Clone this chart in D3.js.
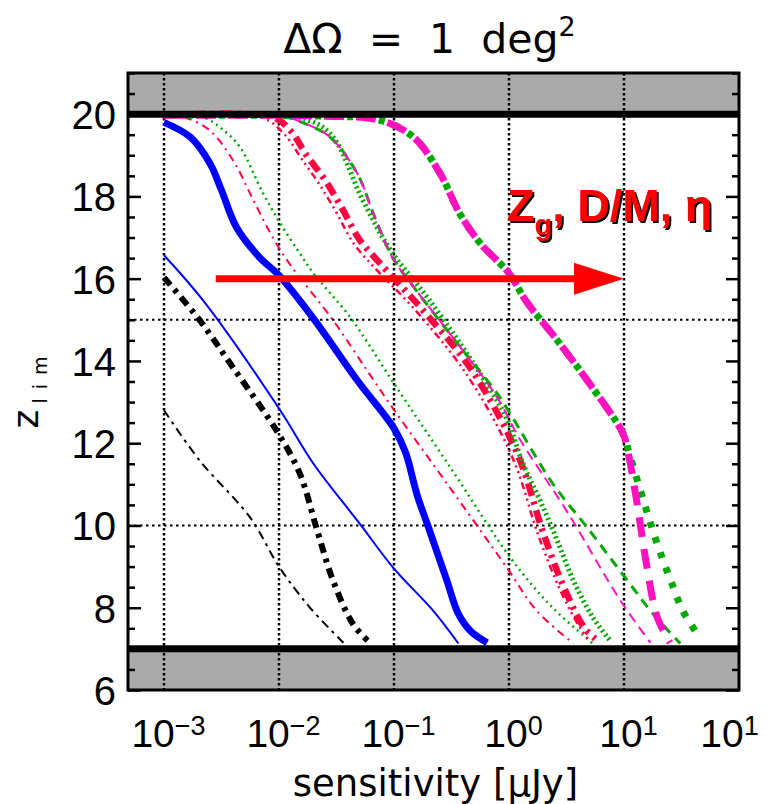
<!DOCTYPE html>
<html>
<head>
<meta charset="UTF-8">
<style>
body { margin: 0; background: #fff; }
text { font-family: "Liberation Sans", Arial, sans-serif; fill: #000; }
.wide { font-family: "DejaVu Sans", sans-serif; }
</style>
</head>
<body>
<svg width="769" height="804"></svg>
<script src="https://cdn.jsdelivr.net/npm/d3@7/dist/d3.min.js"></script>
<script>
// points are [log10(sensitivity / uJy), z_lim]
var blueThick = [[-3,19.8],[-2.77,19.44],[-2.6,18.8],[-2.5,18.15],[-2.37,17.25],[-2.17,16.52],[-2.0,16.08],
  [-1.7,15.03],[-1.32,13.53],[-1.0,12.36],[-0.9,11.78],[-0.8,10.75],[-0.7,9.95],[-0.54,8.66],[-0.44,7.85],[-0.33,7.42],[-0.19,7.15]];
var blueThin = [[-3,16.57],[-2.66,15.47],[-1.99,12.8],[-1.7,11.5],[-1.3,10.05],[-1.0,8.95],[-0.66,7.93],[-0.44,7.13]];
var blackThick = [[-3,16.03],[-2.69,14.99],[-2.4,13.84],[-2.02,12.3],[-1.82,11.27],[-1.67,9.9],[-1.53,8.66],[-1.36,7.62],[-1.23,7.2]];
var blackThin = [[-3,12.8],[-2.69,11.58],[-2.25,10.19],[-2.0,9.0],[-1.73,8.0],[-1.44,7.15]];
var redThin = [[-3,19.97],[-2.8,19.9],[-2.6,19.6],[-2.4,18.88],[-2.23,17.95],[-2.05,16.98],[-1.9,16.33],[-1.53,14.99],
  [-1.23,13.75],[-1.01,12.85],[-0.54,11.02],[-0.02,8.98],[0.24,7.93],[0.56,7.13]];
var greenThin = [[-3,19.97],[-2.66,19.92],[-2.5,19.65],[-2.34,19.2],[-2.14,18.08],[-1.99,17.35],[-1.82,16.62],[-1.7,16.13],
  [-1.38,15.06],[-1.0,13.45],[-0.51,11.41],[0.03,9.15],[0.38,8.0],[0.73,7.13]];
var redMid = [[-3,19.97],[-2.15,19.92],[-1.95,19.5],[-1.8,18.9],[-1.65,18.3],[-1.5,17.6],[-1.35,16.85],[-1.18,16.3],
  [-0.82,15.25],[-0.4,13.8],[-0.08,12.3],[0.08,11.3],[0.25,9.8],[0.45,8.4],[0.62,7.5],[0.7,7.2]];
var redThick = [[-3,19.97],[-2.05,19.92],[-1.9,19.6],[-1.76,19.0],[-1.6,18.4],[-1.45,17.7],[-1.3,16.95],[-1.12,16.37],
  [-0.77,15.3],[-0.34,13.84],[-0.02,12.3],[0.12,11.41],[0.3,9.8],[0.5,8.35],[0.66,7.49],[0.75,7.25]];
var greenThick = [[-3,19.97],[-1.85,19.93],[-1.56,19.54],[-1.27,17.9],[-1.03,16.69],[-0.69,15.47],[-0.23,13.6],[-0.02,12.6],
  [0.12,11.51],[0.27,10.61],[0.42,9.63],[0.56,8.66],[0.73,7.76],[0.88,7.2]];
var greenDashed = [[-3,19.97],[-1.95,19.93],[-1.8,19.8],[-1.56,19.45],[-1.32,18.56],[-1.18,17.59],[-1.01,16.5],[-0.83,15.8],
  [-0.45,14.43],[-0.1,13.2],[0.01,12.72],[0.38,11.02],[0.68,9.95],[1.03,8.66],[1.25,7.86],[1.49,7.13]];
var magentaThin = [[-3,19.97],[-1.95,19.93],[-1.8,19.8],[-1.56,19.45],[-1.32,18.56],[-1.18,17.59],[-1.01,16.5],[-0.83,15.8],
  [-0.45,14.43],[-0.1,13.1],[0.1,12.07],[0.5,10.36],[0.97,8.17],[1.23,7.15]];
var greenRight = [[-3,19.97],[-1.6,19.95],[-1.12,19.85],[-0.83,19.44],[-0.6,18.56],[-0.43,17.59],[-0.25,16.86],[0,16.13],
  [0.15,15.45],[0.42,14.5],[0.7,13.45],[0.99,12.24],[1.05,11.7],[1.17,10.6],[1.25,9.88],[1.34,9.15],[1.43,8.49],[1.51,7.93],[1.66,7.27]];
var magentaRight = [[-3,19.97],[-1.6,19.95],[-1.12,19.85],[-0.83,19.44],[-0.6,18.56],[-0.43,17.59],[-0.25,16.86],[0,16.13],
  [0.15,15.45],[0.42,14.5],[0.7,13.45],[0.99,12.24],[1.03,11.85],[1.11,10.6],[1.2,8.98],[1.29,7.76],[1.4,7.15]];

var xTicks = [1e-3, 1e-2, 1e-1, 1e0, 1e1, 1e2];
var xTickExp = ["\u22123", "\u22122", "\u22121", "0", "1", "1"];
var xGrid = [1e-3, 1e-2, 1e-1, 1e0, 1e1];
var yTicks = [6, 8, 10, 12, 14, 16, 18, 20];
var yGrid = [10, 15];
var zBands = [[20, 21], [6, 7]];
var zLimits = [20, 7];
var arrowFrom = [-2.55, 16], arrowTo = [1, 16];

var svg = d3.select("svg"),
    margin = {top: 73, right: 30, bottom: 114, left: 128},
    width = 769 - margin.left - margin.right,
    height = 804 - margin.top - margin.bottom,
    g = svg.append("g").attr("transform", "translate(" + margin.left + "," + margin.top + ")");

var x = d3.scaleLog().domain([Math.pow(10, -3.313), 100]).range([0, width]),
    y = d3.scaleLinear().domain([6, 21]).range([height, 0]);

var line = d3.line()
    .curve(d3.curveCatmullRom.alpha(0.5))
    .x(function(d) { return x(Math.pow(10, d[0])); })
    .y(function(d) { return y(d[1]); });

var defs = svg.append("defs");
defs.append("clipPath").attr("id", "clip")
  .append("rect").attr("width", width).attr("height", height);
defs.append("filter").attr("id", "shadow").attr("x", "-5%").attr("y", "-20%").attr("width", "110%").attr("height", "140%")
  .append("feDropShadow").attr("dx", 2).attr("dy", 2).attr("stdDeviation", 0.4)
    .attr("flood-color", "#000").attr("flood-opacity", 1);

// grey bands outside the redshift range
g.selectAll(".band").data(zBands).enter().append("rect")
    .attr("x", 0).attr("width", width)
    .attr("y", function(d) { return y(d[1]); })
    .attr("height", function(d) { return y(d[0]) - y(d[1]); })
    .attr("fill", "#aaaaaa");

// dotted grid
g.selectAll(".gx").data(xGrid).enter().append("line")
    .attr("x1", function(d) { return x(d); }).attr("x2", function(d) { return x(d); })
    .attr("y1", 0).attr("y2", height)
    .attr("stroke", "#000").attr("stroke-width", 2.5).attr("stroke-dasharray", "2.5,2.5");
g.selectAll(".gy").data(yGrid).enter().append("line")
    .attr("x1", 0).attr("x2", width)
    .attr("y1", function(d) { return y(d); }).attr("y2", function(d) { return y(d); })
    .attr("stroke", "#000").attr("stroke-width", 2).attr("stroke-dasharray", "2.5,3.5");

var series = [
  {v: blackThin, c: "#000", w: 2, d: "9,5,3,5"},
  {v: blackThick, c: "#000", w: 6, d: "10,6,4,6"},
  {v: blueThin, c: "#0000ff", w: 2, d: null},
  {v: blueThick, c: "#0000ff", w: 7, d: null},
  {v: redThin, c: "#ff0040", w: 2, d: "8,5,2,5"},
  {v: greenThin, c: "#00a800", w: 2.5, d: "2,4"},
  {v: redMid, c: "#ff0040", w: 2.5, d: "7,4,2,4,2,4,2,4"},
  {v: redThick, c: "#ff0040", w: 6.5, d: "13,6,3,6"},
  {v: greenThick, c: "#00a800", w: 5, d: "2,3"},
  {v: greenDashed, c: "#00a800", w: 3, d: "10,7"},
  {v: magentaThin, c: "#ff10c0", w: 2, d: "10,6"},
  {v: greenRight, c: "#00a800", w: 7, d: "6,10", o: 9},
  {v: magentaRight, c: "#ff10c0", w: 7, d: "20,12", o: 0}
];

g.append("g").attr("clip-path", "url(#clip)")
  .selectAll("path").data(series).enter().append("path")
    .attr("d", function(d) { return line(d.v); })
    .attr("fill", "none")
    .attr("stroke", function(d) { return d.c; })
    .attr("stroke-width", function(d) { return d.w; })
    .attr("stroke-dasharray", function(d) { return d.d; })
    .attr("stroke-dashoffset", function(d) { return d.o || 0; });

// thick lines at the redshift limits
g.selectAll(".lim").data(zLimits).enter().append("line")
    .attr("x1", 0).attr("x2", width)
    .attr("y1", function(d) { return y(d); }).attr("y2", function(d) { return y(d); })
    .attr("stroke", "#000").attr("stroke-width", 7);

// axes
var minor = d3.range(6, 21.01, 0.5).filter(function(v) { return v % 2 !== 0; });
function styleAxis(sel) {
  sel.select(".domain").remove();
  sel.selectAll(".tick line").attr("stroke-width", 2.5);
}
g.append("g").call(d3.axisLeft(y).tickValues(yTicks).tickSizeInner(-13).tickSizeOuter(0).tickPadding(12))
  .call(styleAxis)
  .selectAll("text").style("font-size", "40px").attr("dy", "0.36em");
g.append("g").call(d3.axisLeft(y).tickValues(minor).tickSizeInner(-7).tickSizeOuter(0).tickFormat(""))
  .call(styleAxis);
g.append("g").attr("transform", "translate(" + width + ",0)")
  .call(d3.axisRight(y).tickValues(yTicks).tickSizeInner(-13).tickSizeOuter(0).tickFormat(""))
  .call(styleAxis);
g.append("g").attr("transform", "translate(" + width + ",0)")
  .call(d3.axisRight(y).tickValues(minor).tickSizeInner(-7).tickSizeOuter(0).tickFormat(""))
  .call(styleAxis);

var xAxis = g.append("g").attr("transform", "translate(0," + height + ")")
  .call(d3.axisBottom(x).tickValues(xTicks).tickSize(0).tickPadding(29).tickFormat(""));
xAxis.select(".domain").remove();
xAxis.selectAll(".tick text").each(function(d, i) {
  var t = d3.select(this).style("font-size", "39px")
      .attr("dx", i === xTicks.length - 1 ? -10 : 4);
  t.append("tspan").text("10");
  t.append("tspan").attr("dy", "-0.42em").style("font-size", "27px").text(xTickExp[i]);
});

g.append("rect").attr("width", width).attr("height", height)
    .attr("fill", "none").attr("stroke", "#000").attr("stroke-width", 3);

// arrow
var ax0 = x(Math.pow(10, arrowFrom[0])), ax1 = x(Math.pow(10, arrowTo[0])), ay = y(arrowTo[1]);
g.append("line").attr("x1", ax0).attr("x2", ax1 - 45).attr("y1", ay).attr("y2", ay)
    .attr("stroke", "#ff0000").attr("stroke-width", 7);
g.append("path")
    .attr("d", "M" + ax1 + "," + ay + "L" + (ax1 - 50) + "," + (ay - 16) + "L" + (ax1 - 50) + "," + (ay + 16) + "Z")
    .attr("fill", "#ff0000");

// annotation with a black drop shadow
var note = g.append("text").attr("x", x(1) - 2).attr("y", y(17.4))
    .attr("filter", "url(#shadow)")
    .style("font-size", "45px").style("font-weight", "bold").style("fill", "#ff0000");
note.append("tspan").text("Z");
note.append("tspan").attr("dy", 14).style("font-size", "29px").text("g");
note.append("tspan").attr("dy", -14).text(", D/M, \u03b7");

// titles
svg.append("text").attr("class", "wide").attr("x", margin.left + width / 2 - 4).attr("y", 53)
    .attr("text-anchor", "middle").style("font-size", "41px").style("white-space", "pre")
    .call(function(t) {
      t.append("tspan").text("\u0394\u03a9  =  1  deg");
      t.append("tspan").attr("dy", -17).style("font-size", "27px").text("2");
    });
svg.append("text").attr("class", "wide").attr("x", margin.left + width / 2 + 2).attr("y", 796)
    .attr("text-anchor", "middle").style("font-size", "37px")
    .text("sensitivity [\u03bcJy]");
svg.append("text").attr("class", "wide").attr("transform", "translate(38,388) rotate(-90)")
    .attr("text-anchor", "middle").style("font-size", "36px")
    .call(function(t) {
      t.append("tspan").text("z");
      t.append("tspan").attr("dy", 9).attr("dx", 6).style("font-size", "19px").style("letter-spacing", "9px").text("lim");
    });
</script>
</body>
</html>
